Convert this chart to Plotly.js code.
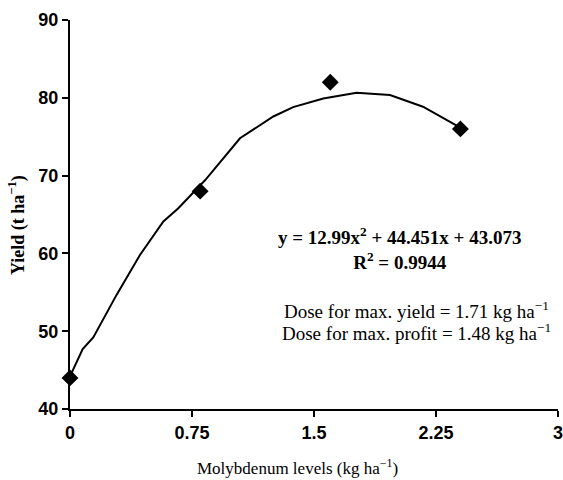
<!DOCTYPE html>
<html>
<head>
<meta charset="utf-8">
<script src="https://cdn.plot.ly/plotly-3.0.1.min.js"></script>
<style>html,body{margin:0;padding:0;background:#fff;}#chart{width:563px;height:480px;}</style>
</head>
<body>
<div id="chart"></div>
<script>
// Observed data points
const doseLevels = [0, 0.8, 1.6, 2.4];
const yieldValues = [44, 68, 82, 76];

// Fitted curve
const curveX = [0, 0.078, 0.143, 0.287, 0.43, 0.574, 0.666, 0.83, 1.045, 1.25, 1.372, 1.557, 1.762, 1.967, 2.17, 2.356, 2.38];
const curveY = [44.2, 47.7, 49.2, 54.7, 59.8, 64.1, 65.8, 69.4, 74.8, 77.6, 78.8, 79.9, 80.65, 80.35, 78.85, 76.7, 76.4];

// Tick labels
const xTickVals = [0, 0.75, 1.5, 2.25, 3];
const xTickText = ['0', '0.75', '1.5', '2.25', '3'];
const yTickVals = [40, 50, 60, 70, 80, 90];
const yTickText = ['40', '50', '60', '70', '80', '90'];

const serif = 'Liberation Serif, Times New Roman, serif';
const tickFont = {family: 'Liberation Sans, Arial, sans-serif', size: 18, color: '#000', weight: 'bold'};

const traces = [
  {x: curveX, y: curveY, mode: 'lines', type: 'scatter',
   line: {color: '#000', width: 2}, hoverinfo: 'skip', showlegend: false},
  {x: doseLevels, y: yieldValues, mode: 'markers', type: 'scatter',
   marker: {symbol: 'diamond', size: 13, color: '#000'}, showlegend: false, cliponaxis: false}
];

// plot area: x 70..558 px, y 20..409 px
const px = v => (v - 70) / 488;
const py = v => (409 - v) / 389;

const layout = {
  width: 563, height: 480,
  margin: {l: 70, r: 5, t: 20, b: 71},
  paper_bgcolor: '#fff', plot_bgcolor: '#fff',
  showlegend: false,
  xaxis: {
    range: [0, 3], tickvals: xTickVals, ticktext: xTickText,
    showgrid: false, zeroline: false, showline: true, linecolor: '#000', linewidth: 2,
    ticks: 'outside', ticklen: 6, tickwidth: 2, tickcolor: '#000',
    tickfont: tickFont, ticklabeloverflow: 'allow'
  },
  yaxis: {
    range: [40, 90], tickvals: yTickVals, ticktext: yTickText,
    showgrid: false, zeroline: false, showline: true, linecolor: '#000', linewidth: 2,
    ticks: 'outside', ticklen: 6, tickwidth: 2, tickcolor: '#000',
    tickfont: tickFont, ticklabeloverflow: 'allow'
  },
  annotations: [
    {xref: 'paper', yref: 'paper', x: px(297), y: py(467), xanchor: 'center', yanchor: 'middle',
     text: 'Molybdenum levels (kg ha<sup>\u22121</sup>)', showarrow: false, font: {family: serif, size: 17, color: '#000'}},
    {xref: 'paper', yref: 'paper', x: px(17), y: py(225), xanchor: 'center', yanchor: 'middle', textangle: -90,
     text: '<b>Yield (t ha<sup>\u22121</sup>)</b>', showarrow: false, font: {family: serif, size: 18, color: '#000'}},
    {xref: 'paper', yref: 'paper', x: px(399), y: py(249), xanchor: 'center', yanchor: 'middle', align: 'center',
     text: '<b>y = 12.99x<sup>2</sup> + 44.451x + 43.073<br>R<sup>2</sup> = 0.9944</b>', showarrow: false,
     font: {family: serif, size: 19, color: '#000'}},
    {xref: 'paper', yref: 'paper', x: px(282), y: py(310), xanchor: 'left', yanchor: 'middle',
     text: 'Dose for max. yield = 1.71 kg ha<sup>\u22121</sup>', showarrow: false, font: {family: serif, size: 19, color: '#000'}},
    {xref: 'paper', yref: 'paper', x: px(280), y: py(332), xanchor: 'left', yanchor: 'middle',
     text: 'Dose for max. profit = 1.48 kg ha<sup>\u22121</sup>', showarrow: false, font: {family: serif, size: 19, color: '#000'}}
  ]
};

Plotly.newPlot('chart', traces, layout, {displayModeBar: false, staticPlot: true});
</script>
</body>
</html>
